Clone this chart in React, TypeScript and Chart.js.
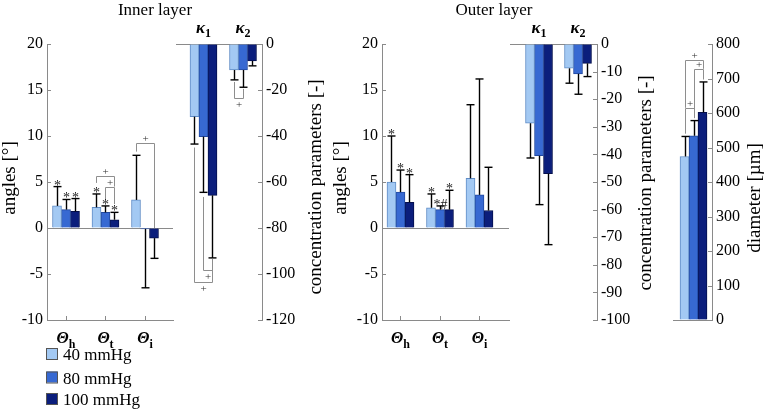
import React, { useEffect, useRef } from 'react';
import { Chart, registerables } from 'chart.js';
Chart.register(...registerables);

const W = 765;
const H = 410;
const SERIF = '"Liberation Serif", "Times New Roman", Times, serif';
const AX = '#8a8a8a';
const BR = '#8e8e8e';
const AXIS_BOX = 40;

// ---------- data ----------
const pressureLabels = ['40 mmHg', '80 mmHg', '100 mmHg'];
const fillColors = ['#a3c9f3', '#3769d2', '#0b1e7c'];
const edgeColors = ['#5f8cc6', '#21489f', '#05104c'];

const angleSubs = ['h', 't', 'i'];
const kappaSubs = ['1', '2'];
const diameterCats = [''];

// inner layer, angles [deg]
const innerAngle40 = [2.4, 2.25, 3.05];
const innerAngle80 = [2.0, 1.7, -0.1];
const innerAngle100 = [1.8, 0.9, -1.1];
const innerAngleSd40 = [2.1, 1.45, 4.85];
const innerAngleSd80 = [1.1, 0.7, 6.4];
const innerAngleSd100 = [1.4, 0.8, 2.2];
const innerAngleMarks40 = ['*', '*', ''];
const innerAngleMarks80 = ['*', '*', ''];
const innerAngleMarks100 = ['*', '*', ''];
// [category, fromSeries, toSeries, level, endFrom, endTo]
const innerAngleBrackets = [
  [2, 0, 2, 5.7, 4.9, 4.5],
  [2, 1, 2, 4.5, 3.0, 2.6],
  [3, 0, 2, 9.2, 8.3, 0],
];

// inner layer, concentration parameters
const innerKappa40 = [-31.6, -11.3];
const innerKappa80 = [-40.3, -11.3];
const innerKappa100 = [-65.8, -7.4];
const innerKappaSd40 = [11.9, 4.3];
const innerKappaSd80 = [24.2, 7.5];
const innerKappaSd100 = [27.2, 2.1];
const innerKappaBrackets = [
  [1, 0, 2, -103.5, -45, -93.5],
  [1, 1, 2, -98.3, -66.5, -93.5],
  [2, 0, 1, -23.5, -16.5, -19.5],
];

// outer layer, angles [deg]
const outerAngle40 = [5.0, 2.2, 5.4];
const outerAngle80 = [3.9, 2.0, 3.6];
const outerAngle100 = [2.8, 2.0, 1.9];
const outerAngleSd40 = [5.0, 1.5, 8.0];
const outerAngleSd80 = [2.4, 0.4, 12.6];
const outerAngleSd100 = [3.0, 2.1, 4.7];
const outerAngleMarks40 = ['*', '*', ''];
const outerAngleMarks80 = ['*', '*#', ''];
const outerAngleMarks100 = ['*', '*', ''];

// outer layer, concentration parameters
const outerKappa40 = [-28.7, -8.8];
const outerKappa80 = [-40.5, -10.8];
const outerKappa100 = [-47.0, -7.0];
const outerKappaSd40 = [12.6, 5.4];
const outerKappaSd80 = [17.7, 7.4];
const outerKappaSd100 = [25.7, 4.8];

// diameter [um]
const diameter40 = [474];
const diameter80 = [534];
const diameter100 = [602];
const diameterSd40 = [58];
const diameterSd80 = [44];
const diameterSd100 = [88];
const diameterBrackets = [
  [1, 0, 2, 755, 615, 728],
  [1, 1, 2, 728, 591, 697],
  [1, 0, 1, 615, 540, 585],
];

// ---------- layout ----------
const TOP = 44;
const BOTTOM = 320;

type Panel = {
  left: number;
  right: number;
  xMin: number;
  xMax: number;
  cats: string[];
  yMin: number;
  yMax: number;
  step: number;
  yPos: 'left' | 'right';
  values: number[][];
  errs: number[][];
  marks?: string[][];
  brackets?: number[][];
  catKind: 'theta' | 'kappa' | 'none';
  xBorder: boolean;
  title?: { text: string; x: number; y: number };
  axisTitle: { text: string; x: number; y: number };
  legend?: boolean;
};

const panels: Panel[] = [
  {
    left: 47, right: 173, xMin: 0.519, xMax: 3.709, cats: angleSubs,
    yMin: -10, yMax: 20, step: 5, yPos: 'left',
    values: [innerAngle40, innerAngle80, innerAngle100],
    errs: [innerAngleSd40, innerAngleSd80, innerAngleSd100],
    marks: [innerAngleMarks40, innerAngleMarks80, innerAngleMarks100],
    brackets: innerAngleBrackets,
    catKind: 'theta', xBorder: true,
    title: { text: 'Inner layer', x: 155, y: 15 },
    axisTitle: { text: 'angles [°]', x: 15, y: 178 },
    legend: true,
  },
  {
    left: 176, right: 262, xMin: 0.304, xMax: 2.481, cats: kappaSubs,
    yMin: -120, yMax: 0, step: 20, yPos: 'right',
    values: [innerKappa40, innerKappa80, innerKappa100],
    errs: [innerKappaSd40, innerKappaSd80, innerKappaSd100],
    brackets: innerKappaBrackets,
    catKind: 'kappa', xBorder: false,
    axisTitle: { text: 'concentration parameters [-]', x: 321, y: 187 },
  },
  {
    left: 382, right: 509, xMin: 0.532, xMax: 3.747, cats: angleSubs,
    yMin: -10, yMax: 20, step: 5, yPos: 'left',
    values: [outerAngle40, outerAngle80, outerAngle100],
    errs: [outerAngleSd40, outerAngleSd80, outerAngleSd100],
    marks: [outerAngleMarks40, outerAngleMarks80, outerAngleMarks100],
    catKind: 'theta', xBorder: true,
    title: { text: 'Outer layer', x: 494, y: 15 },
    axisTitle: { text: 'angles [°]', x: 346, y: 178 },
  },
  {
    left: 510, right: 597, xMin: 0.256, xMax: 2.487, cats: kappaSubs,
    yMin: -100, yMax: 0, step: 10, yPos: 'right',
    values: [outerKappa40, outerKappa80, outerKappa100],
    errs: [outerKappaSd40, outerKappaSd80, outerKappaSd100],
    catKind: 'kappa', xBorder: false,
    axisTitle: { text: 'concentration parameters [-]', x: 651, y: 183 },
  },
  {
    left: 673, right: 712, xMin: 0.481, xMax: 1.468, cats: diameterCats,
    yMin: 0, yMax: 800, step: 100, yPos: 'right',
    values: [diameter40, diameter80, diameter100],
    errs: [diameterSd40, diameterSd80, diameterSd100],
    brackets: diameterBrackets,
    catKind: 'none', xBorder: false,
    axisTitle: { text: 'diameter [µm]', x: 760, y: 198 },
  },
];

function line(ctx: CanvasRenderingContext2D, x1: number, y1: number, x2: number, y2: number) {
  ctx.beginPath();
  ctx.moveTo(x1, y1);
  ctx.lineTo(x2, y2);
  ctx.stroke();
}

function subLabel(ctx: CanvasRenderingContext2D, cx: number, base: number, main: string, sub: string,
  mainFont: string, subFont: string, drop: number) {
  ctx.font = mainFont;
  const w1 = ctx.measureText(main).width;
  ctx.font = subFont;
  const w2 = ctx.measureText(sub).width;
  const x0 = cx - (w1 + w2) / 2;
  ctx.textAlign = 'left';
  ctx.textBaseline = 'alphabetic';
  ctx.font = mainFont;
  ctx.fillText(main, x0, base);
  ctx.font = subFont;
  ctx.fillText(sub, x0 + w1, base + drop);
}

function decor(p: Panel) {
  return {
    id: 'decor',
    afterDraw(chart: any) {
      const ctx: CanvasRenderingContext2D = chart.ctx;
      const ys = chart.scales.y;
      const xs = chart.scales.x;
      const ca = chart.chartArea;
      ctx.save();
      // inward ticks
      ctx.strokeStyle = AX;
      ctx.lineWidth = 1;
      const axisX = p.yPos === 'left' ? ca.left : ca.right;
      const dir = p.yPos === 'left' ? 1 : -1;
      ys.ticks.forEach((t: any) => {
        const py = Math.round(ys.getPixelForValue(t.value)) + 0.5;
        line(ctx, axisX, py, axisX + dir * 4, py);
      });
      if (p.xBorder) {
        p.cats.forEach((_, i) => {
          const px = Math.round(xs.getPixelForValue(i + 1)) + 0.5;
          line(ctx, px, ca.bottom, px, ca.bottom - 4);
        });
      }
      // brackets
      if (p.brackets) {
        ctx.strokeStyle = BR;
        ctx.fillStyle = '#333';
        ctx.font = `11px ${SERIF}`;
        ctx.textAlign = 'center';
        ctx.textBaseline = 'alphabetic';
        p.brackets.forEach(([cat, a, b, level, ea, eb]) => {
          const xa = Math.round(chart.getDatasetMeta(a).data[cat - 1].x) + 0.5;
          const xb = Math.round(chart.getDatasetMeta(b).data[cat - 1].x) + 0.5;
          const yl = Math.round(ys.getPixelForValue(level)) + 0.5;
          const ya = ys.getPixelForValue(ea);
          const yb = ys.getPixelForValue(eb);
          ctx.beginPath();
          ctx.moveTo(xa, ya);
          ctx.lineTo(xa, yl);
          ctx.lineTo(xb, yl);
          ctx.lineTo(xb, yb);
          ctx.stroke();
          const up = level > ea;
          ctx.fillText('+', (xa + xb) / 2, up ? yl - 1.5 : yl + 9);
        });
      }
      // error bars + marks
      ctx.strokeStyle = '#000';
      ctx.lineWidth = 1.4;
      chart.data.datasets.forEach((ds: any, di: number) => {
        const meta = chart.getDatasetMeta(di);
        meta.data.forEach((el: any, j: number) => {
          const v = ds.data[j].y;
          const sd = p.errs[di][j];
          const end = v < 0 ? v - sd : v + sd;
          const ye = ys.getPixelForValue(end);
          const x = Math.round(el.x) + 0.5;
          line(ctx, x, el.y, x, ye);
          line(ctx, x - 4, ye, x + 4, ye);
          const mk = p.marks ? p.marks[di][j] : '';
          if (mk) {
            ctx.fillStyle = '#222';
            ctx.font = `14px ${SERIF}`;
            ctx.textAlign = 'center';
            ctx.textBaseline = 'alphabetic';
            ctx.fillText(mk, x, ye + 3);
          }
        });
      });
      // category labels
      ctx.fillStyle = '#000';
      p.cats.forEach((sub, i) => {
        const cx = xs.getPixelForValue(i + 1);
        if (p.catKind === 'theta') {
          subLabel(ctx, cx, 343, 'Θ', sub, `italic bold 16px ${SERIF}`, `bold 12px ${SERIF}`, 5);
        } else if (p.catKind === 'kappa') {
          subLabel(ctx, cx, 33, 'κ', sub, `italic bold 17px ${SERIF}`, `bold 12px ${SERIF}`, 4);
        }
      });
      // titles
      if (p.title) {
        ctx.font = `17px ${SERIF}`;
        ctx.textAlign = 'center';
        ctx.textBaseline = 'alphabetic';
        ctx.fillText(p.title.text, p.title.x, p.title.y);
      }
      ctx.save();
      ctx.translate(p.axisTitle.x, p.axisTitle.y);
      ctx.rotate(-Math.PI / 2);
      ctx.font = `19px ${SERIF}`;
      ctx.textAlign = 'center';
      ctx.textBaseline = 'alphabetic';
      ctx.fillText(p.axisTitle.text, 0, 0);
      ctx.restore();
      // legend
      if (p.legend) {
        const tops = [348, 371.5, 393];
        chart.data.datasets.forEach((ds: any, di: number) => {
          const t = tops[di];
          ctx.fillStyle = ds.backgroundColor;
          ctx.fillRect(46.5, t, 11, 11);
          ctx.strokeStyle = '#555';
          ctx.lineWidth = 1;
          ctx.strokeRect(46.5, t + 0.5, 11, 11);
          ctx.fillStyle = '#000';
          ctx.font = `17px ${SERIF}`;
          ctx.textAlign = 'left';
          ctx.textBaseline = 'alphabetic';
          ctx.fillText(ds.label, 63, t + 12);
        });
      }
      ctx.restore();
    },
  };
}

function buildConfig(p: Panel): any {
  const padLeft = p.yPos === 'left' ? p.left - AXIS_BOX : p.left;
  const padRight = p.yPos === 'right' ? W - p.right - AXIS_BOX : W - p.right;
  return {
    type: 'bar',
    data: {
      datasets: pressureLabels.map((label, k) => ({
        label,
        data: p.cats.map((_, i) => ({ x: i + 1, y: p.values[k][i] })),
        backgroundColor: fillColors[k],
        borderColor: edgeColors[k],
        borderWidth: 1,
        barThickness: 9,
      })),
    },
    options: {
      animation: false,
      responsive: false,
      devicePixelRatio: 1,
      layout: { padding: { left: padLeft, right: padRight, top: TOP, bottom: H - BOTTOM } },
      plugins: { legend: { display: false }, tooltip: { enabled: false }, title: { display: false } },
      scales: {
        x: {
          type: 'linear',
          min: p.xMin,
          max: p.xMax,
          offset: false,
          display: p.xBorder,
          ticks: { display: false },
          grid: { display: false, drawTicks: false },
          border: { display: p.xBorder, color: AX, width: 1 },
          afterFit: (s: any) => { s.height = 0; },
        },
        y: {
          type: 'linear',
          position: p.yPos,
          min: p.yMin,
          max: p.yMax,
          ticks: {
            stepSize: p.step,
            color: '#000',
            padding: 4,
            font: { family: SERIF, size: 16 },
          },
          grid: {
            drawTicks: false,
            color: (c: any) => (c.tick && c.tick.value === 0 ? AX : 'rgba(0,0,0,0)'),
          },
          border: { display: true, color: AX, width: 1 },
          afterFit: (s: any) => { s.width = AXIS_BOX; },
        },
      },
    },
    plugins: [decor(p)],
  };
}

export default function App() {
  const canvases = useRef<(HTMLCanvasElement | null)[]>([]);
  useEffect(() => {
    const charts = panels.map((p, i) => new Chart(canvases.current[i] as HTMLCanvasElement, buildConfig(p)));
    return () => charts.forEach((c) => c.destroy());
  }, []);
  return (
    <div style={{ position: 'fixed', left: 0, top: 0, width: W, height: H, background: '#fff' }}>
      {panels.map((_, i) => (
        <canvas
          key={i}
          ref={(el) => { canvases.current[i] = el; }}
          width={W}
          height={H}
          style={{ position: 'absolute', left: 0, top: 0, width: W, height: H }}
        />
      ))}
    </div>
  );
}
